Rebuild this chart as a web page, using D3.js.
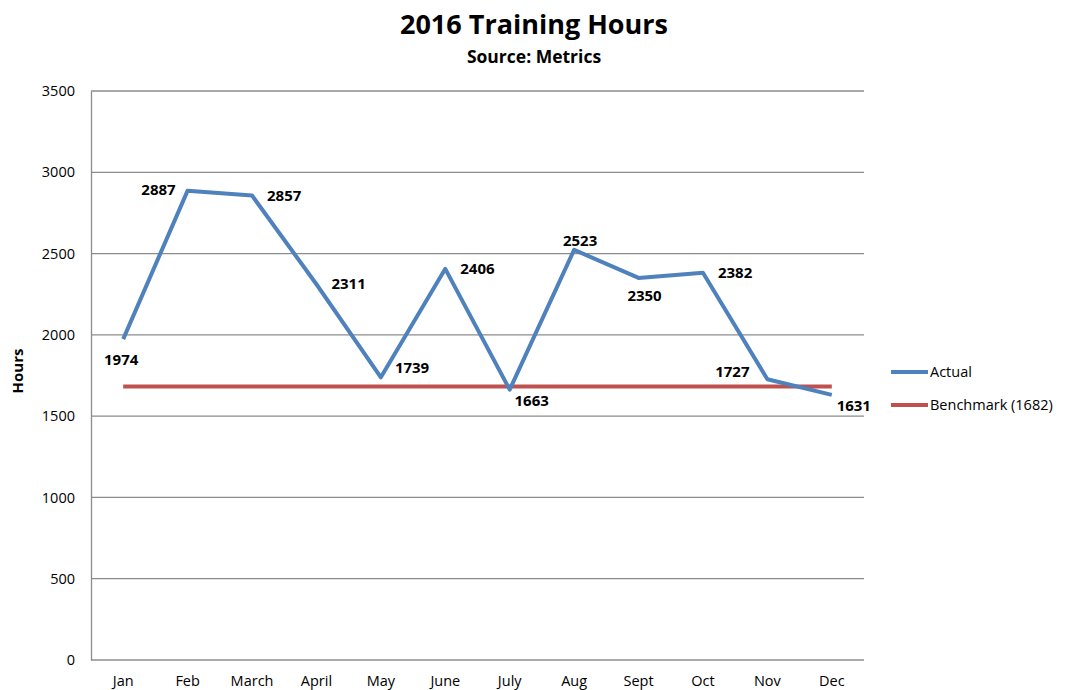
<!DOCTYPE html>
<html>
<head>
<meta charset="utf-8">
<script src="https://cdn.jsdelivr.net/npm/d3@7"></script>
<style>
  body { margin: 0; background: #fff; }
  svg { font-family: "Open Sans", "DejaVu Sans", sans-serif; }
</style>
</head>
<body>
<div id="chart"></div>
<script>
// chart data
var months = ['Jan', 'Feb', 'March', 'April', 'May', 'June', 'July', 'Aug', 'Sept', 'Oct', 'Nov', 'Dec'];
var actual = [1974, 2887, 2857, 2311, 1739, 2406, 1663, 2523, 2350, 2382, 1727, 1631];
var benchmark = 1682;
var yTicks = [0, 500, 1000, 1500, 2000, 2500, 3000, 3500];
// where each data label sits relative to its point
var labelPos = ['below-left', 'left', 'right', 'right', 'above-right', 'right', 'below-right', 'above', 'below', 'right', 'above-left', 'below-right'];

var width = 1065, height = 690,
  margin = { top: 91, right: 201, bottom: 30, left: 91 };

var svg = d3.select('#chart')
  .append('svg')
  .attr('width', width)
  .attr('height', height);

var x = d3.scaleBand()
  .domain(months)
  .range([margin.left, width - margin.right]);

var y = d3.scaleLinear()
  .domain([0, 3500])
  .range([height - margin.bottom, margin.top]);

// title
svg.append('text')
  .attr('x', 534).attr('y', 34)
  .attr('text-anchor', 'middle')
  .attr('font-size', '27px')
  .attr('font-weight', 'bold')
  .text('2016 Training Hours');

svg.append('text')
  .attr('x', 534).attr('y', 63)
  .attr('text-anchor', 'middle')
  .attr('font-size', '17.5px')
  .attr('font-weight', 'bold')
  .text('Source: Metrics');

// gridlines
svg.append('g')
  .selectAll('line')
  .data(yTicks).enter()
  .append('line')
  .attr('x1', margin.left)
  .attr('x2', width - margin.right)
  .attr('y1', function(d) { return y(d); })
  .attr('y2', function(d) { return y(d); })
  .attr('stroke', '#8c8c8c')
  .attr('stroke-width', 1.3);

// y axis
var yAxis = svg.append('g')
  .attr('transform', 'translate(' + margin.left + ',0)')
  .call(d3.axisLeft(y).tickValues(yTicks).tickFormat(d3.format('d')).tickSize(0).tickPadding(16));
yAxis.select('.domain').attr('stroke', '#8c8c8c').attr('stroke-width', 1.3);
yAxis.selectAll('text').attr('font-size', '14.5px').attr('fill', '#000')
  .attr('font-family', '"Open Sans", sans-serif');

// x axis
var xAxis = svg.append('g')
  .attr('transform', 'translate(0,' + (height - margin.bottom) + ')')
  .call(d3.axisBottom(x).tickSize(0).tickPadding(16));
xAxis.select('.domain').remove();
xAxis.selectAll('text').attr('font-size', '14.5px').attr('fill', '#000')
  .attr('font-family', '"Open Sans", sans-serif');

// y axis title
svg.append('text')
  .attr('transform', 'translate(23,371) rotate(-90)')
  .attr('text-anchor', 'middle')
  .attr('font-size', '15px')
  .attr('font-weight', 'bold')
  .text('Hours');

var cx = function(d) { return x(d) + x.bandwidth() / 2; };

// benchmark line
svg.append('line')
  .attr('x1', cx(months[0]))
  .attr('x2', cx(months[months.length - 1]))
  .attr('y1', y(benchmark))
  .attr('y2', y(benchmark))
  .attr('stroke', '#c0504d')
  .attr('stroke-width', 4);

// actual line
var line = d3.line()
  .x(function(d, i) { return cx(months[i]); })
  .y(function(d) { return y(d); });

svg.append('path')
  .datum(actual)
  .attr('d', line)
  .attr('fill', 'none')
  .attr('stroke', '#4f81bd')
  .attr('stroke-width', 4)
  .attr('stroke-linejoin', 'round');

// data labels
var offsets = {
  'below-left': { dx: -2, dy: 26, anchor: 'middle' },
  'left': { dx: -12, dy: 4, anchor: 'end' },
  'right': { dx: 15, dy: 5, anchor: 'start' },
  'above-right': { dx: 14, dy: -4, anchor: 'start' },
  'below-right': { dx: 22, dy: 16, anchor: 'middle' },
  'above': { dx: 6, dy: -4, anchor: 'middle' },
  'below': { dx: 6, dy: 23, anchor: 'middle' },
  'above-left': { dx: -35, dy: -2, anchor: 'middle' }
};

svg.append('g')
  .selectAll('text')
  .data(actual).enter()
  .append('text')
  .attr('x', function(d, i) { return cx(months[i]) + offsets[labelPos[i]].dx; })
  .attr('y', function(d, i) { return y(d) + offsets[labelPos[i]].dy; })
  .attr('text-anchor', function(d, i) { return offsets[labelPos[i]].anchor; })
  .attr('font-size', '15px')
  .attr('font-weight', 'bold')
  .text(function(d) { return d; });

// legend
var legend = [
  { name: 'Actual', color: '#4f81bd', y: 372 },
  { name: 'Benchmark (' + benchmark + ')', color: '#c0504d', y: 405 }
];
var lg = svg.append('g').selectAll('g')
  .data(legend).enter()
  .append('g');
lg.append('line')
  .attr('x1', 891).attr('x2', 928)
  .attr('y1', function(d) { return d.y; })
  .attr('y2', function(d) { return d.y; })
  .attr('stroke', function(d) { return d.color; })
  .attr('stroke-width', 4);
lg.append('text')
  .attr('x', 930)
  .attr('y', function(d) { return d.y + 5; })
  .attr('font-size', '14.5px')
  .text(function(d) { return d.name; });
</script>
</body>
</html>
